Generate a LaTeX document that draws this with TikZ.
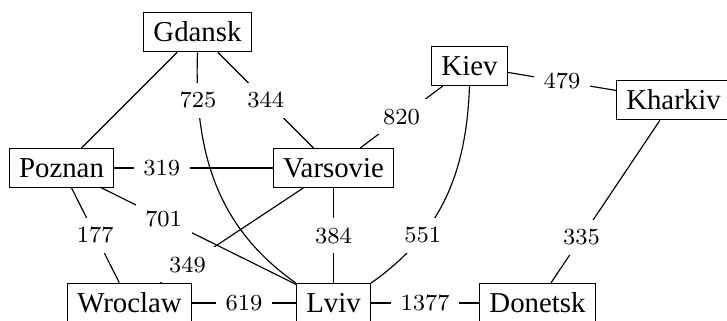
\documentclass[tikz,border=0pt]{standalone}
\usepackage{fontspec}
\setmainfont{Liberation Serif}
\newfontfamily\numfont{Latin Modern Roman}
\begin{document}
\begin{tikzpicture}[x=0.347pt,y=-0.347pt,
  city/.style={draw, rectangle, inner sep=3.33pt, line width=0.4pt,
    font=\fontsize{10}{12}\selectfont},
  dist/.style={fill=white, inner sep=3.33pt,
    font=\numfont\fontsize{8}{9.6}\selectfont},
  road/.style={line width=0.4pt}]
\useasboundingbox (0,0) rectangle (727,320);

% cities
\node[city] (gdansk)   at (197.5,32)  {Gdansk};
\node[city] (poznan)   at (61.5,168)  {Poznan};
\node[city] (varsovie) at (333.5,168) {Varsovie};
\node[city] (kiev)     at (469.5,66)  {Kiev};
\node[city] (kharkiv)  at (673.5,100) {Kharkiv};
\node[city] (wroclaw)  at (129.5,303) {Wroclaw};
\node[city] (lviv)     at (333.5,303) {Lviv};
\node[city] (donetsk)  at (537.5,303) {Donetsk};

% roads with distances
\draw[road] (gdansk) -- (poznan);
\draw[road] (gdansk) -- node[dist]{344} (varsovie);
\draw[road] (gdansk.south) to[out=-92,in=145] node[dist,pos=0.17]{725} (lviv.north west);
\draw[road] (poznan) -- node[dist,pos=0.3]{319} (varsovie);
\draw[road] (poznan) -- node[dist,pos=0.32]{701} (lviv);
\draw[road] (poznan) -- node[dist]{177} (wroclaw);
\draw[road] (varsovie) -- node[dist,pos=0.81]{349} (wroclaw);
\draw[road] (varsovie) -- node[dist]{384} (lviv);
\draw[road] (varsovie) -- node[dist]{820} (kiev);
\draw[road] (kiev) -- node[dist]{479} (kharkiv);
\draw[road] (kiev.south) to[out=-92,in=35] node[dist,pos=0.7]{551} (lviv.north east);
\draw[road] (kharkiv) -- node[dist,pos=0.72]{335} (donetsk);
\draw[road] (wroclaw) -- node[dist]{619} (lviv);
\draw[road] (lviv) -- node[dist]{1377} (donetsk);
\end{tikzpicture}
\end{document}
